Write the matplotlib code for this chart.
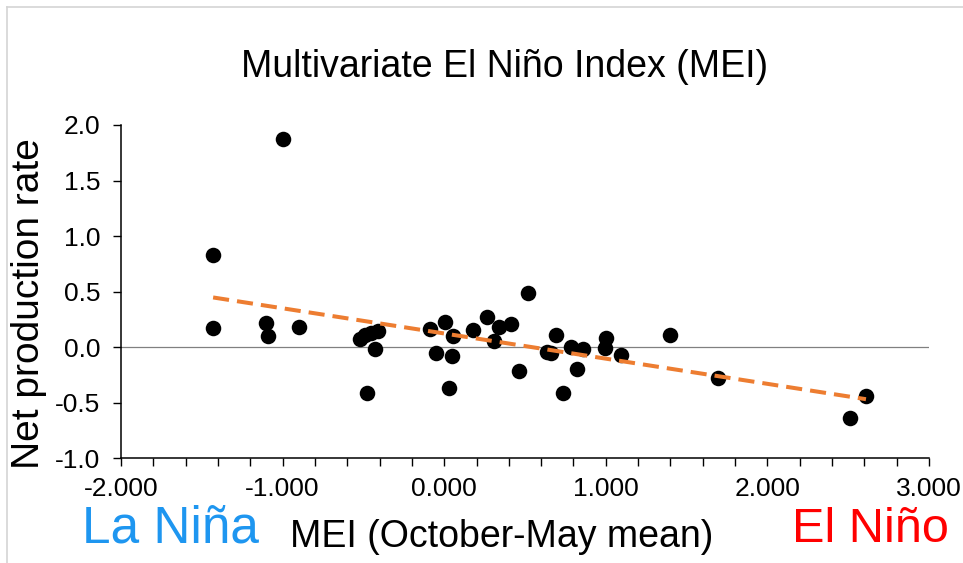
import numpy as np
import matplotlib
matplotlib.use("Agg")
import matplotlib.pyplot as plt
from matplotlib.ticker import MultipleLocator, FormatStrFormatter
from matplotlib.lines import Line2D

plt.rcParams['font.family'] = ['Liberation Sans', 'DejaVu Sans']

# MEI (October-May mean) vs net production rate
mei = [-1.43, -1.43, -1.00, -1.10, -1.09, -0.90,
       -0.52, -0.49, -0.45, -0.41, -0.43, -0.48,
       -0.09, 0.005, -0.05, 0.056, 0.046, 0.032,
       0.176, 0.263, 0.341, 0.308, 0.411, 0.52, 0.463,
       0.634, 0.66, 0.69, 0.783, 0.857, 0.82, 0.733,
       1.001, 0.995, 1.092, 1.397, 1.696, 2.511, 2.61]
rate = [0.83, 0.17, 1.87, 0.22, 0.10, 0.18,
        0.07, 0.11, 0.13, 0.15, -0.015, -0.41,
        0.16, 0.23, -0.05, 0.105, -0.078, -0.37,
        0.156, 0.276, 0.186, 0.06, 0.207, 0.486, -0.214,
        -0.04, -0.05, 0.111, 0.005, -0.018, -0.198, -0.414,
        0.087, -0.009, -0.069, 0.111, -0.274, -0.634, -0.439]

x = np.array(mei)
y = np.array(rate)

fig = plt.figure(figsize=(9.63, 5.63), dpi=100)
ax = fig.add_axes([121 / 963, 1 - 458.3 / 563, 808 / 963, 333.3 / 563])

ax.axhline(0, color='#808080', lw=0.9, zorder=1)
ax.scatter(x, y, s=125, color='black', zorder=3, linewidths=0)

# linear trend line over the data range
slope, icpt = np.polyfit(x, y, 1)
xt = np.array([x.min(), x.max()])
ax.plot(xt, icpt + slope * xt, color='#ED7D31', lw=2.9, dashes=(4, 2), zorder=4)

ax.set_xlim(-2, 3)
ax.set_ylim(-1, 2)
ax.xaxis.set_major_locator(MultipleLocator(1))
ax.xaxis.set_minor_locator(MultipleLocator(0.2))
ax.yaxis.set_major_locator(MultipleLocator(0.5))
ax.xaxis.set_major_formatter(FormatStrFormatter('%.3f'))
ax.yaxis.set_major_formatter(FormatStrFormatter('%.1f'))
ax.tick_params(axis='both', which='both', direction='out', length=5.8, width=1, colors='black')
ax.tick_params(axis='both', labelsize=19)
ax.tick_params(axis='x', pad=8)
ax.tick_params(axis='y', pad=9)

for s in ['top', 'right']:
    ax.spines[s].set_visible(False)
for s in ['left', 'bottom']:
    ax.spines[s].set_linewidth(1.1)

fig.text(29 / 963, 1 - 304 / 563, 'Net production rate', fontsize=28, rotation=90,
         ha='center', va='center')
fig.text(505 / 963, 1 - 67 / 563, 'Multivariate El Niño Index (MEI)', fontsize=27,
         ha='center', va='center')
fig.text(502 / 963, 1 - 537 / 563, 'MEI (October-May mean)', fontsize=27,
         ha='center', va='center')
fig.text(170 / 963, 1 - 529 / 563, 'La Niña', fontsize=37, color='#1E96F0',
         ha='center', va='center')
fig.text(870 / 963, 1 - 529 / 563, 'El Niño', fontsize=35, color='#FF0000',
         ha='center', va='center')

# light frame of the original slide
fig.add_artist(Line2D([7 / 963, 7 / 963], [0, 1 - 7 / 563], color='#d4d4d4', lw=1.2))
fig.add_artist(Line2D([7 / 963, 1], [1 - 7 / 563, 1 - 7 / 563], color='#d4d4d4', lw=1.2))

fig.savefig('out.png', dpi=100)
